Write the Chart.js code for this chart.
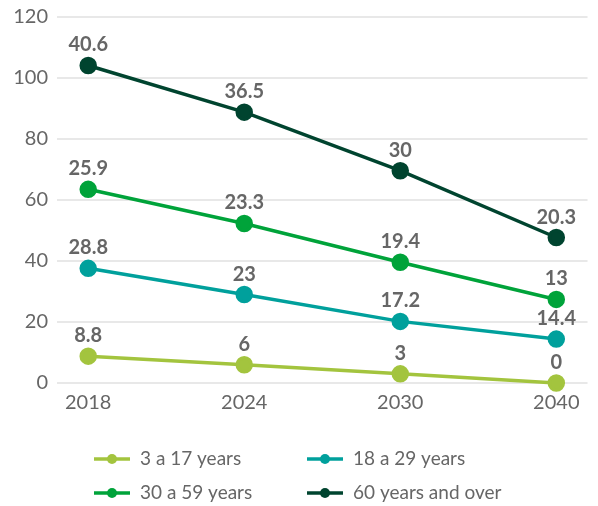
<!DOCTYPE html>
<html>
<head>
<meta charset="utf-8">
<script src="https://cdn.jsdelivr.net/npm/chart.js@4/dist/chart.umd.min.js"></script>
<style>
  html, body { margin: 0; padding: 0; background: #fff; }
  #wrap { width: 598px; height: 506px; }
</style>
</head>
<body>
<div id="wrap"><canvas id="chart"></canvas></div>
<script>
// data
const years = ['2018', '2024', '2030', '2040'];
const age3to17 = [8.8, 6, 3, 0];
const age18to29 = [28.8, 23, 17.2, 14.4];
const age30to59 = [25.9, 23.3, 19.4, 13];
const age60plus = [40.6, 36.5, 30, 20.3];
const seriesNames = ['3 a 17 years', '18 a 29 years', '30 a 59 years', '60 years and over'];
const colors = ['#a3c43e', '#00a09c', '#00a33a', '#00442f'];

const FONT = 'Lato, "Noto Sans", sans-serif';

function toPoints(arr) {
  return arr.map(function(v, i) { return {x: i, y: v}; });
}

const allSeries = [age3to17, age18to29, age30to59, age60plus];
const datasets = allSeries.map(function(arr, i) {
  return {
    label: seriesNames[i],
    data: toPoints(arr),
    borderColor: colors[i],
    backgroundColor: colors[i],
    pointBackgroundColor: colors[i],
    pointBorderColor: colors[i],
    borderWidth: 3.5,
    pointRadius: 7,
    pointHoverRadius: 7,
    fill: false,
    clip: false,
    tension: 0
  };
});

// value labels above each point
const valueLabels = {
  id: 'valueLabels',
  afterDatasetsDraw(chart) {
    const ctx = chart.ctx;
    ctx.save();
    ctx.font = 'bold 20px ' + FONT;
    ctx.fillStyle = '#666666';
    ctx.textAlign = 'center';
    ctx.textBaseline = 'alphabetic';
    chart.data.datasets.forEach(function(ds, i) {
      const meta = chart.getDatasetMeta(i);
      meta.data.forEach(function(pt, j) {
        ctx.fillText(String(ds.data[j].y), pt.x, pt.y - 14);
      });
    });
    ctx.restore();
  }
};

// two-column legend under the plot
const bottomLegend = {
  id: 'bottomLegend',
  afterDraw(chart) {
    const ctx = chart.ctx;
    const colX = [94, 307];
    const rowY = [459, 493];
    ctx.save();
    ctx.font = '19px ' + FONT;
    ctx.textBaseline = 'middle';
    ctx.textAlign = 'left';
    chart.data.datasets.forEach(function(ds, i) {
      const x = colX[i % 2];
      const y = rowY[Math.floor(i / 2)];
      ctx.strokeStyle = ds.borderColor;
      ctx.lineWidth = 3.5;
      ctx.beginPath();
      ctx.moveTo(x, y);
      ctx.lineTo(x + 36, y);
      ctx.stroke();
      ctx.fillStyle = ds.borderColor;
      ctx.beginPath();
      ctx.arc(x + 18, y, 5, 0, Math.PI * 2);
      ctx.fill();
      ctx.fillStyle = '#666666';
      ctx.fillText(ds.label, x + 46, y);
    });
    ctx.restore();
  }
};

new Chart(document.getElementById('chart'), {
  type: 'line',
  data: { datasets: datasets },
  plugins: [valueLabels, bottomLegend],
  options: {
    responsive: true,
    maintainAspectRatio: false,
    animation: false,
    layout: { padding: { top: 17, right: 4, bottom: 93, left: 0 } },
    plugins: {
      legend: { display: false },
      tooltip: { enabled: false }
    },
    scales: {
      x: {
        type: 'linear',
        min: -0.2,
        max: 3.2,
        afterBuildTicks(axis) {
          axis.ticks = years.map(function(y, i) { return {value: i}; });
        },
        afterFit(scale) {
          scale.paddingLeft = 0;
          scale.paddingRight = 0;
          scale.height = 30;
        },
        ticks: {
          callback: function(v) { return years[v]; },
          color: '#666666',
          font: { size: 20, family: FONT },
          padding: 0,
          maxRotation: 0
        },
        grid: { display: false },
        border: { display: false }
      },
      y: {
        stacked: true,
        min: 0,
        max: 120,
        afterFit(scale) {
          scale.paddingTop = 0;
          scale.paddingBottom = 0;
          scale.width = 57;
        },
        ticks: {
          stepSize: 20,
          color: '#666666',
          font: { size: 20, family: FONT },
          padding: 9
        },
        grid: { color: '#e8e8e8', lineWidth: 2, drawTicks: false },
        border: { display: false }
      }
    }
  }
});
</script>
</body>
</html>
